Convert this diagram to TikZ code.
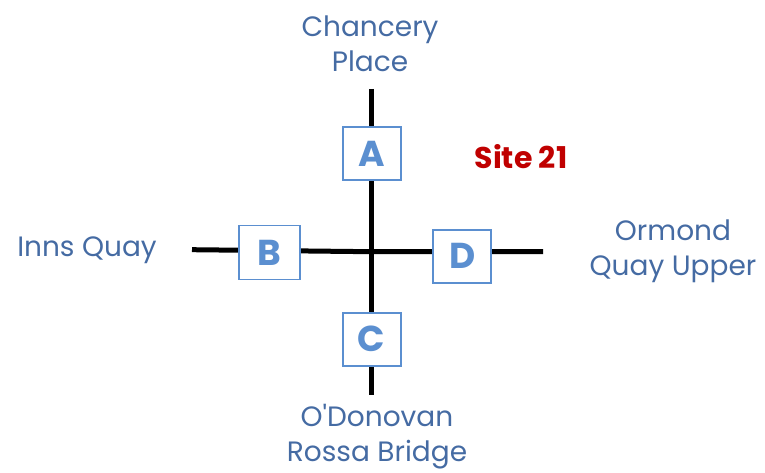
\documentclass[tikz,border=0pt]{standalone}
\usepackage{fontspec}
\setmainfont{Poppins}
\definecolor{labelblue}{HTML}{456BA3}
\definecolor{boxblue}{HTML}{5B8FD0}
\definecolor{sitered}{HTML}{C00000}
\tikzset{
  road/.style={line width=5pt, black},
  sitebox/.style={draw=boxblue, line width=1.8pt, fill=white, minimum width=58pt, minimum height=53pt, inner sep=0pt, text=boxblue, font=\fontsize{36}{36}\selectfont\bfseries},
  streetlabel/.style={text=labelblue, align=center, font=\fontsize{28}{35}\selectfont, inner sep=0pt}
}
\begin{document}
\begin{tikzpicture}[x=1pt,y=-1pt]
\useasboundingbox (0,0) rectangle (765,473);
\coordinate (ntop) at (371,89);
\coordinate (sbot) at (371,395);
\coordinate (wend) at (192,249.7);
\coordinate (ctr) at (371,251.7);
\coordinate (eend) at (543,251.7);
\draw[road] (ntop) -- (sbot);
\draw[road] (wend) -- (ctr) -- (eend);
\node[sitebox] (A) at (371.7,153.7) {A};
\node[sitebox, minimum width=61pt, minimum height=54pt] (B) at (269.7,252.5) {B};
\node[sitebox] (C) at (371.7,339.3) {C};
\node[sitebox] (D) at (462.3,256.3) {D};
\node[streetlabel] (chancery) at (370,44) {Chancery\\Place};
\node[streetlabel] (inns) at (87,250) {Inns Quay};
\node[streetlabel] (ormond) at (673,251) {Ormond\\Quay Upper};
\node[streetlabel] (odonovan) at (377,437) {O\textquotesingle Donovan\\Rossa Bridge};
\node[text=sitered, font=\fontsize{30}{30}\selectfont\bfseries, inner sep=0pt] (site) at (521,157) {Site 21};
\end{tikzpicture}
\end{document}
